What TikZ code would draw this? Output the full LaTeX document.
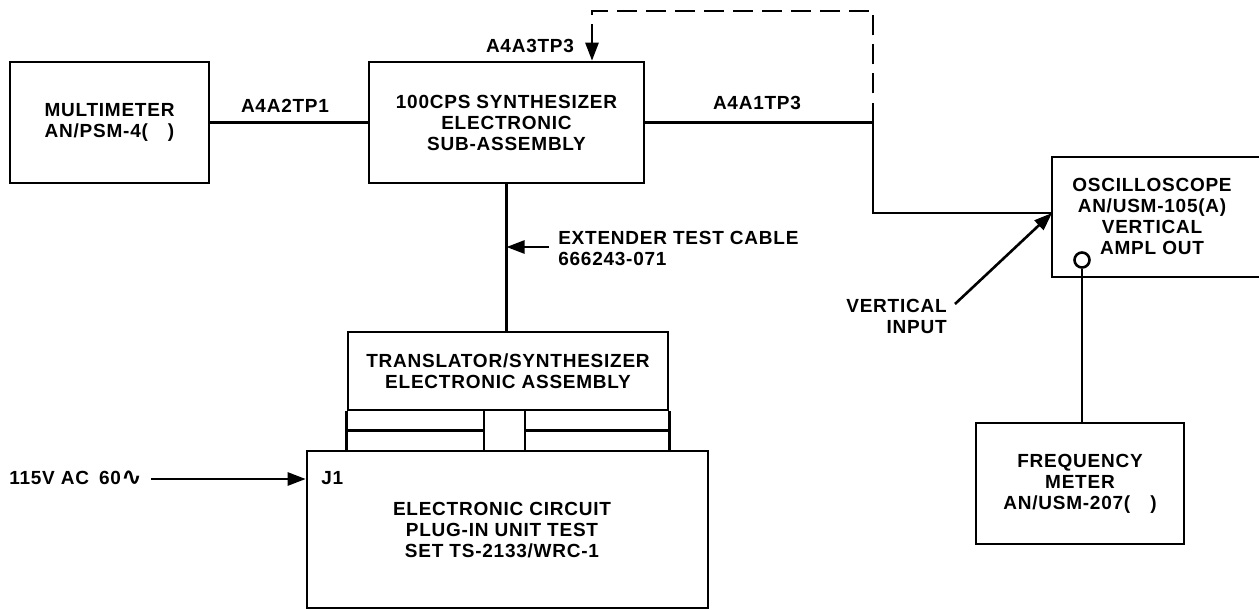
\documentclass[tikz,border=0pt]{standalone}
\usepackage{fontspec}
\setmainfont[LetterSpace=4]{Liberation Sans}
\newfontfamily\symf{DejaVu Sans}
\usetikzlibrary{arrows.meta}
\begin{document}
\begin{tikzpicture}[x=1pt,y=-1pt,line width=2.6pt,
  every node/.style={font=\fontsize{19}{21}\selectfont\bfseries, inner sep=0pt},
  box/.style={draw, rectangle, align=center},
  lbl/.style={align=center},
  arr/.style={-{Triangle[length=18pt,width=13pt]}},
  dsh/.style={dash pattern=on 20pt off 9pt}]
\clip (0,0) rectangle (1259,610);
\fill[white] (0,0) rectangle (1259,610);
% boxes
\node[box, minimum width=199pt, minimum height=121pt] (mm) at (109.5,122.5) {MULTIMETER\\AN/PSM-4(\hspace{20pt})};
\node[box, minimum width=275pt, minimum height=121pt] (syn) at (506.5,122.5) {100CPS SYNTHESIZER\\ELECTRONIC\\SUB-ASSEMBLY};
\node[draw, minimum width=223pt, minimum height=120pt] (osc) at (1163.5,217) {};
\node[lbl] (osct) at (1152,216) {OSCILLOSCOPE\\AN/USM-105(A)\\VERTICAL\\AMPL OUT};
\node[draw, circle, minimum size=15pt] (jack) at (1082,260) {};
\node[box, minimum width=208pt, minimum height=121pt] (freq) at (1080,483.5) {FREQUENCY\\METER\\AN/USM-207(\hspace{20pt})};
\node[box, minimum width=320pt, minimum height=78pt] (trans) at (508,371) {TRANSLATOR/SYNTHESIZER\\ELECTRONIC ASSEMBLY};
\node[draw, minimum width=401pt, minimum height=157pt] (test) at (507.5,529.5) {};
\node[lbl] (testt) at (502,530) {ELECTRONIC CIRCUIT\\PLUG-IN UNIT TEST\\SET TS-2133/WRC-1};
\node[anchor=west] (j1) at (320,478) {J1};
\node[draw, minimum width=41pt, minimum height=41pt] (conn) at (504.5,430.5) {};
% translator lower structure
\draw (trans.south west) -- (trans.south west |- test.north);
\draw (trans.south east) -- (trans.south east |- test.north);
\draw (trans.south west |- conn.west) -- (conn.west);
\draw (conn.east) -- (trans.south east |- conn.east);
% labels
\node (l1) at (285,106) {A4A2TP1};
\node (l2) at (530,46) {A4A3TP3};
\node (l3) at (757,103) {A4A1TP3};
\node[anchor=west, align=left] (ext) at (557,248.5) {EXTENDER TEST CABLE\\666243-071};
\node[anchor=east, align=right] (vin) at (948,316) {VERTICAL\\INPUT};
\node[anchor=west] (ac) at (8,478) {115V AC\hspace{4pt} 60\raisebox{-1pt}{\symf\fontsize{25}{25}\selectfont ∿}};
% coordinates
\coordinate (tp3) at (592,11);
\coordinate (cr) at (873,11);
\coordinate (bend) at (873,122.5);
\coordinate (bend2) at (873,213);
\coordinate (oin) at (1052,213);
\coordinate (vtail) at (955,304);
\coordinate (etail) at (549,247);
\coordinate (acs) at (151,479);
% connectors
\draw (mm.east) -- (syn.west);
\draw (syn.east) -- (bend) -- (bend2) -- (oin);
\draw[dsh, arr] (bend) -- (cr) -- (tp3) -- (tp3 |- syn.north);
\draw (syn.south) -- (syn.south |- trans.north);
\draw[arr] (etail) -- (etail -| syn.south);
\draw[arr] (vtail) -- (oin);
\draw (jack.south) -- (jack.south |- freq.north);
\draw[arr] (acs) -- (acs -| test.west);
\end{tikzpicture}
\end{document}
